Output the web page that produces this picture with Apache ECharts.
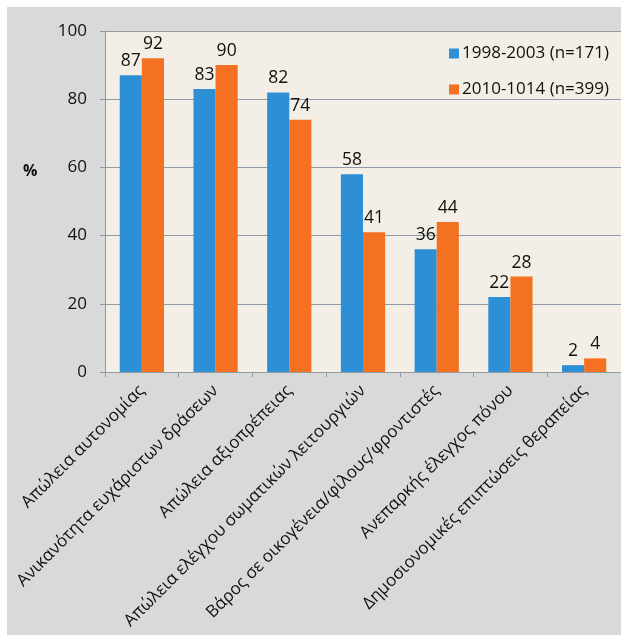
<!DOCTYPE html>
<html>
<head>
<meta charset="utf-8">
<script src="https://cdn.jsdelivr.net/npm/echarts@6/dist/echarts.min.js"></script>
<style>
body{margin:0;background:#fff;}
#wrap{position:absolute;left:7px;top:7px;width:614px;height:628px;background:#d9d9d9;}
#chart{width:614px;height:628px;}
</style>
</head>
<body>
<div id="wrap"><div id="chart"></div></div>
<script>
var categories = ['Απώλεια αυτονομίας','Ανικανότητα ευχάριστων δράσεων','Απώλεια αξιοπρέπειας','Απώλεια ελέγχου σωματικών λειτουργιών','Βάρος σε οικογένεια/φίλους/φροντιστές','Ανεπαρκής έλεγχος πόνου','Δημοσιονομικές επιπτώσεις θεραπείας'];
var seriesNames = ['1998-2003 (n=171)','2010-1014 (n=399)'];
var values1998 = [87,83,82,58,36,22,2];
var values2010 = [92,90,74,41,44,28,4];
var yTicks = [0,20,40,60,80,100];

var font = 'Open Sans';
var myChart = echarts.init(document.getElementById('chart'));

function makeSeries(name, data, color){
	return {
		name:name,
		type:'bar',
		data:data,
		barGap:'0%',
		barCategoryGap:'40%',
		itemStyle:{color:color},
		label:{
			show:true,
			position:'top',
			distance:5,
			color:'#111',
			fontSize:17.5,
			fontFamily:font
		}
	};
}

var option = {
	animation:false,
	textStyle:{fontFamily:font},
	// "%" sits above the middle of the axis, so place it by hand
	graphic:[{
		type:'text',
		left:16,
		top:156,
		style:{text:'%',fontSize:16,fontWeight:'bold',fill:'#111',fontFamily:font}
	}],
	legend:{
		orient:'vertical',
		left:437,
		top:33,
		itemWidth:10,
		itemHeight:10,
		itemGap:19,
		icon:'rect',
		textStyle:{fontSize:17,color:'#111',fontFamily:font,padding:[0,0,0,-2]},
		data:seriesNames
	},
	grid:{
		left:98,
		top:24,
		width:518,
		height:341,
		show:true,
		backgroundColor:'#f3efe6',
		borderWidth:0
	},
	xAxis:{
		type:'category',
		data:categories,
		axisLine:{lineStyle:{color:'#8e9aa4',width:1}},
		axisTick:{show:true,length:5,lineStyle:{color:'#8e9aa4'}},
		axisLabel:{
			rotate:45,
			interval:0,
			margin:16,
			fontSize:17,
			color:'#111',
			fontFamily:font
		}
	},
	yAxis:{
		type:'value',
		min:yTicks[0],
		max:yTicks[yTicks.length-1],
		interval:20,
		axisLine:{show:true,lineStyle:{color:'#8e9aa4'}},
		axisTick:{show:true,length:5,lineStyle:{color:'#8e9aa4'}},
		splitLine:{show:true,lineStyle:{color:'#8e9aa4',width:1}},
		axisLabel:{fontSize:17,color:'#111',margin:18,fontFamily:font}
	},
	series:[
		makeSeries(seriesNames[0], values1998, '#2d8fd5'),
		makeSeries(seriesNames[1], values2010, '#f47122')
	]
};
myChart.setOption(option);
</script>
</body>
</html>
